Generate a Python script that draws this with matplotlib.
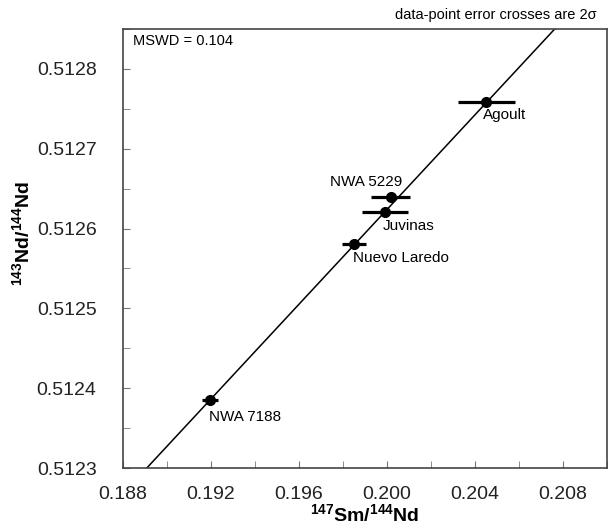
import numpy as np
import matplotlib
matplotlib.use("Agg")
import matplotlib.pyplot as plt
from matplotlib.ticker import MultipleLocator, FixedLocator

plt.rcParams['font.family'] = ['Liberation Sans', 'DejaVu Sans']
plt.rcParams['mathtext.fontset'] = 'custom'
plt.rcParams['mathtext.rm'] = 'Liberation Sans:bold'
plt.rcParams['mathtext.bf'] = 'Liberation Sans:bold'

# data
names = ['NWA 7188', 'Nuevo Laredo', 'Juvinas', 'NWA 5229', 'Agoult']
sm_nd = [0.19195, 0.19852, 0.19991, 0.20018, 0.20453]
nd_nd = [0.512385, 0.512581, 0.512621, 0.512639, 0.512759]
sm_err = [0.00036, 0.00054, 0.00105, 0.00089, 0.00130]
nd_err = [0.000004, 0.000004, 0.000004, 0.000004, 0.000004]

# isochron fit
slope = 0.02965
intercept = 0.5066937
mswd = 0.104

# label offsets in pixels (dx, dy, ha)
label_pos = {
    'NWA 7188': (-1, -17, 'left'),
    'Nuevo Laredo': (-1, -14, 'left'),
    'Juvinas': (-2, -14, 'left'),
    'NWA 5229': (11, 15, 'right'),
    'Agoult': (-4, -13, 'left'),
}

fig = plt.figure(figsize=(6.08, 5.32), dpi=100)
ax = fig.add_axes([0.2023, 0.1203, 0.7957, 0.8252])

xlim = (0.188, 0.210)
ylim = (0.5123, 0.51285)

xx = np.array(xlim)
ax.plot(xx, intercept + slope * xx, color='black', lw=1.1, zorder=2)

ax.errorbar(sm_nd, nd_nd, xerr=sm_err, yerr=nd_err, fmt='o', color='black',
            ms=7, elinewidth=2.3, capsize=0, zorder=3)

for n, x, y in zip(names, sm_nd, nd_nd):
    dx, dy, ha = label_pos[n]
    ax.annotate(n, (x, y), xytext=(dx, dy), textcoords='offset pixels',
                ha=ha, va='center', fontsize=11, color='black')

ax.set_xlim(*xlim)
ax.set_ylim(*ylim)

ax.xaxis.set_major_locator(FixedLocator([0.188, 0.192, 0.196, 0.200, 0.204, 0.208]))
ax.xaxis.set_minor_locator(MultipleLocator(0.002))
ax.set_xticklabels(['0.188', '0.192', '0.196', '0.200', '0.204', '0.208'])
ax.yaxis.set_major_locator(MultipleLocator(0.0001))
ax.yaxis.set_minor_locator(MultipleLocator(0.00005))
ax.set_yticklabels([f'{v:.4f}' for v in ax.get_yticks()])

ax.tick_params(axis='x', which='both', direction='in', length=5, color='#777777',
               labelsize=14, labelcolor='#222222', pad=13)
ax.tick_params(axis='y', which='both', direction='in', length=5, color='#777777',
               labelsize=14, labelcolor='#222222', pad=19)

for s in ax.spines.values():
    s.set_color('#444444')
    s.set_linewidth(1.2)

ax.set_xlabel(r'$^{147}$Sm/$^{144}$Nd', fontsize=14, fontweight='bold', labelpad=0)
ax.set_ylabel(r'$^{143}$Nd/$^{144}$Nd', fontsize=14, fontweight='bold')
ax.yaxis.set_label_coords(-0.183, 0.535)

ax.text(0.021, 0.973, f'MSWD = {mswd}', transform=ax.transAxes, fontsize=10.5,
        ha='left', va='center')
fig.text(0.982, 0.972, 'data-point error crosses are 2σ', fontsize=10.5,
         ha='right', va='center')

fig.savefig('out.png', dpi=100)
